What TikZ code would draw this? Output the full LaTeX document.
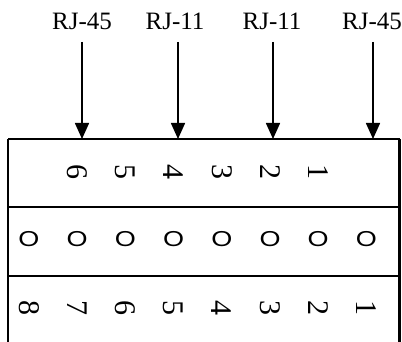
\documentclass[tikz,border=0pt]{standalone}
\usepackage{fontspec}
\setmainfont{Liberation Serif}
\newfontfamily\holefont{Liberation Sans}
\usetikzlibrary{arrows.meta}
\begin{document}
\begin{tikzpicture}[x=1pt,y=-1pt,
  lab/.style={font=\fontsize{25}{25}\selectfont, anchor=base, inner sep=0pt},
  pin/.style={font=\fontsize{30}{30}\selectfont, rotate=-90, inner sep=0pt},
  hole/.style={font=\holefont\fontsize{27}{27}\selectfont, yscale=0.8, inner sep=0pt},
  conn/.style={line width=1.6pt, -{Triangle[width=14pt,length=16pt]}},
  edge/.style={line width=2.4pt}]
\useasboundingbox (0,0) rectangle (402,342);
% labels
\node[lab] (l1) at (82,29.5) {RJ-45};
\node[lab] (l2) at (175,29.5) {RJ-11};
\node[lab] (l3) at (272,29.5) {RJ-11};
\node[lab] (l4) at (372,29.5) {RJ-45};
% box corners
\coordinate (tl) at (8,139);
\coordinate (tr) at (399.5,139);
\coordinate (m1l) at (8,207);
\coordinate (m1r) at (399.5,207);
\coordinate (m2l) at (8,276);
\coordinate (m2r) at (399.5,276);
\coordinate (bl) at (8,343);
\coordinate (br) at (399.5,343);
\draw[edge] (tl) -- (tr);
\draw[edge] (m1l) -- (m1r);
\draw[edge] (m2l) -- (m2r);
\draw[line width=1.4pt] (tl) -- (bl);
\draw[edge] (tr) -- (br);
% arrow targets
\coordinate (t1) at (82,139);
\coordinate (t2) at (178,139);
\coordinate (t3) at (273,139);
\coordinate (t4) at (373,139);
\coordinate (s1) at (82,42);
\coordinate (s2) at (178,42);
\coordinate (s3) at (273,42);
\coordinate (s4) at (373,42);
\foreach \i in {1,...,4} \draw[conn] (s\i) -- (t\i);
% row 1: 6..1
\foreach \d [count=\k] in {6,5,4,3,2,1}
  \node[pin] (a\d) at ({29+48.2*\k},172.5) {\d};
% row 2: holes
\foreach \k in {0,...,7}
  \node[hole] (h\k) at ({29+48.2*\k},239) {O};
% row 3: 8..1
\foreach \d [count=\k from 0] in {8,7,6,5,4,3,2,1}
  \node[pin] (b\d) at ({29+48.2*\k},308) {\d};
\end{tikzpicture}
\end{document}
